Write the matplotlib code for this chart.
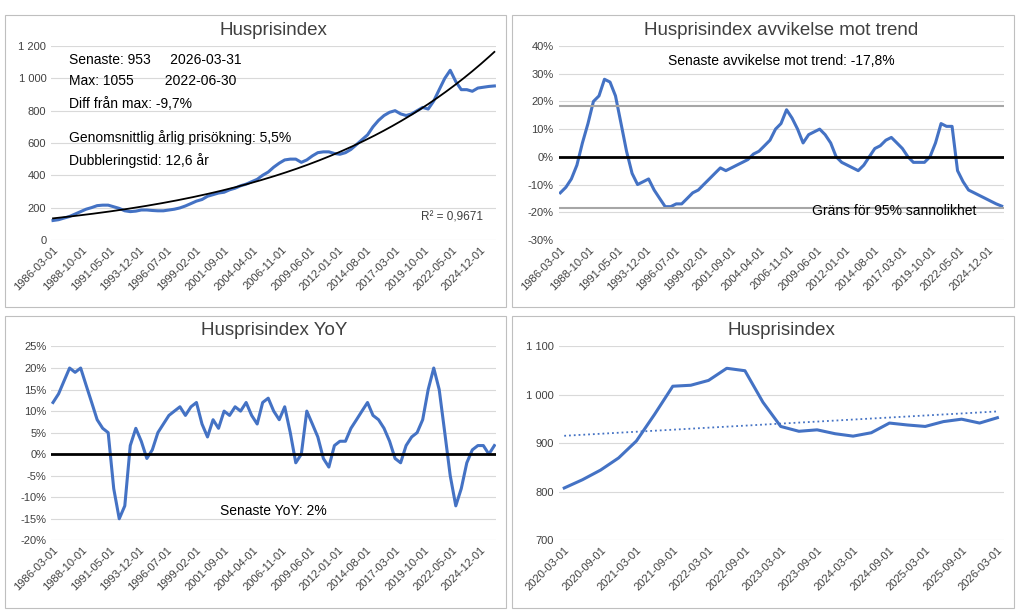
import numpy as np
import pandas as pd
import matplotlib.pyplot as plt
from matplotlib.ticker import FuncFormatter, MultipleLocator

# half-yearly readings 1986-03 .. 2026-03
half_dates = list(pd.date_range('1986-03-01', '2025-09-01', freq='6MS')) + [pd.Timestamp('2026-03-01')]

index_vals = [120, 125, 135, 145, 160, 175, 190, 200, 212, 215, 215, 205, 195, 180, 175, 178,
              185, 185, 182, 180, 180, 185, 190, 198, 210, 225, 240, 250, 270, 280, 290, 295,
              310, 320, 335, 345, 360, 375, 400, 420, 450, 475, 495, 500, 500, 480, 495, 520,
              540, 545, 545, 535, 530, 540, 560, 590, 620, 650, 700, 740, 770, 790, 800, 780,
              770, 780, 800, 820, 810, 860, 930, 1000, 1050, 980, 930, 930, 920, 940, 945, 950, 953]

deviation = [-13, -11, -8, -3, 5, 12, 20, 22, 28, 27, 22, 12, 2, -6, -10, -9,
             -8, -12, -15, -18, -18, -17, -17, -15, -13, -12, -10, -8, -6, -4, -5, -4,
             -3, -2, -1, 1, 2, 4, 6, 10, 12, 17, 14, 10, 5, 8, 9, 10,
             8, 5, 0, -2, -3, -4, -5, -3, 0, 3, 4, 6, 7, 5, 3, 0,
             -2, -2, -2, 0, 5, 12, 11, 11, -5, -9, -12, -13, -14, -15, -16, -17, -17.8]

yoy = [12, 14, 17, 20, 19, 20, 16, 12, 8, 6, 5, -8, -15, -12, 2, 6,
       3, -1, 1, 5, 7, 9, 10, 11, 9, 11, 12, 7, 4, 8, 6, 10,
       9, 11, 10, 12, 9, 7, 12, 13, 10, 8, 11, 5, -2, 0, 10, 7,
       4, -1, -3, 2, 3, 3, 6, 8, 10, 12, 9, 8, 6, 3, -1, -2,
       2, 4, 5, 8, 15, 20, 15, 5, -5, -12, -8, -2, 1, 2, 2, 0, 2]

recent_dates = pd.date_range('2020-03-01', '2026-03-01', freq='3MS')
recent_vals = [808, 825, 845, 870, 905, 960, 1018, 1020, 1030, 1055, 1050, 985, 935, 925, 928, 920,
               915, 922, 942, 938, 935, 945, 950, 942, 953]

long_ticks = ['1986-03-01', '1988-10-01', '1991-05-01', '1993-12-01', '1996-07-01', '1999-02-01',
              '2001-09-01', '2004-04-01', '2006-11-01', '2009-06-01', '2012-01-01', '2014-08-01',
              '2017-03-01', '2019-10-01', '2022-05-01', '2024-12-01']
short_ticks = ['2020-03-01', '2020-09-01', '2021-03-01', '2021-09-01', '2022-03-01', '2022-09-01',
               '2023-03-01', '2023-09-01', '2024-03-01', '2024-09-01', '2025-03-01', '2025-09-01',
               '2026-03-01']

BLUE = '#4472C4'
GRID = '#D9D9D9'
TXT = '#404040'
plt.rcParams['font.family'] = ['Liberation Sans', 'DejaVu Sans']

fig, axes = plt.subplots(2, 2, figsize=(10.24, 6.14), dpi=100)
fig.subplots_adjust(left=0.05, right=0.98, top=0.925, bottom=0.12, hspace=0.55, wspace=0.14)

space_fmt = FuncFormatter(lambda v, p: f'{int(v):,}'.replace(',', ' '))
pct_fmt = FuncFormatter(lambda v, p: f'{int(v)}%')


def style(ax, title, ticks):
    ax.set_title(title, fontsize=13.5, color=TXT, pad=8)
    for s in ax.spines.values():
        s.set_visible(False)
    ax.grid(axis='y', color=GRID, lw=0.8)
    ax.set_axisbelow(True)
    ax.tick_params(length=0, labelsize=8, colors=TXT)
    tk = pd.to_datetime(ticks)
    ax.set_xticks(tk)
    ax.set_xticklabels(ticks, rotation=45, ha='right', rotation_mode='anchor')
    ax.set_xlim(tk[0] - pd.Timedelta(days=60), pd.Timestamp('2026-05-01'))


# panel 1
ax = axes[0, 0]
ax.plot(half_dates, index_vals, color=BLUE, lw=2.2)
t = np.array([(d - half_dates[0]).days / 365.25 for d in half_dates])
b, a = np.polyfit(t, np.log(index_vals), 1)
tt = np.linspace(0, t[-1], 200)
ax.plot([half_dates[0] + pd.Timedelta(days=x * 365.25) for x in tt], np.exp(a + b * tt), color='black', lw=1.3)
style(ax, 'Husprisindex', long_ticks)
ax.set_ylim(0, 1200)
ax.yaxis.set_major_locator(MultipleLocator(200))
ax.yaxis.set_major_formatter(space_fmt)
for y, s in [(0.93, 'Senaste: 953     2026-03-31'), (0.82, 'Max: 1055        2022-06-30'),
             (0.70, 'Diff från max: -9,7%'), (0.53, 'Genomsnittlig årlig prisökning: 5,5%'),
             (0.41, 'Dubbleringstid: 12,6 år')]:
    ax.text(0.04, y, s, transform=ax.transAxes, fontsize=10, va='center')
ax.text(0.97, 0.10, 'R² = 0,9671', transform=ax.transAxes, fontsize=8.5, ha='right', color=TXT)

# panel 2
ax = axes[0, 1]
ax.plot(half_dates, deviation, color=BLUE, lw=2.2)
ax.axhline(0, color='black', lw=2)
ax.axhline(18.5, color='#A6A6A6', lw=1.5)
ax.axhline(-18.5, color='#A6A6A6', lw=1.5)
style(ax, 'Husprisindex avvikelse mot trend', long_ticks)
ax.set_ylim(-30, 40)
ax.yaxis.set_major_locator(MultipleLocator(10))
ax.yaxis.set_major_formatter(pct_fmt)
ax.text(0.5, 0.9, 'Senaste avvikelse mot trend: -17,8%', transform=ax.transAxes, fontsize=10, ha='center')
ax.text(0.94, 0.13, 'Gräns för 95% sannolikhet', transform=ax.transAxes, fontsize=10, ha='right')

# panel 3
ax = axes[1, 0]
ax.plot(half_dates, yoy, color=BLUE, lw=2.2)
ax.axhline(0, color='black', lw=2)
style(ax, 'Husprisindex YoY', long_ticks)
ax.set_ylim(-20, 25)
ax.yaxis.set_major_locator(MultipleLocator(5))
ax.yaxis.set_major_formatter(pct_fmt)
ax.text(0.5, 0.13, 'Senaste YoY: 2%', transform=ax.transAxes, fontsize=10, ha='center')

# panel 4
ax = axes[1, 1]
ax.plot(recent_dates, recent_vals, color=BLUE, lw=2.2)
x = np.arange(len(recent_vals))
k, m = np.polyfit(x, recent_vals, 1)
ax.plot(recent_dates, k * x + m, color=BLUE, lw=1.3, ls=':')
style(ax, 'Husprisindex', short_ticks)
ax.set_xlim(pd.Timestamp('2020-02-01'), pd.Timestamp('2026-04-01'))
ax.set_ylim(700, 1100)
ax.yaxis.set_major_locator(MultipleLocator(100))
ax.yaxis.set_major_formatter(space_fmt)

for a_ in axes.flat:
    bb = a_.get_position()
    fig.add_artist(plt.Rectangle((bb.x0 - 0.045, bb.y0 - 0.11), bb.width + 0.055, bb.height + 0.16,
                                 transform=fig.transFigure, fill=False, ec='#BFBFBF', lw=0.8))

fig.savefig('out.png')
